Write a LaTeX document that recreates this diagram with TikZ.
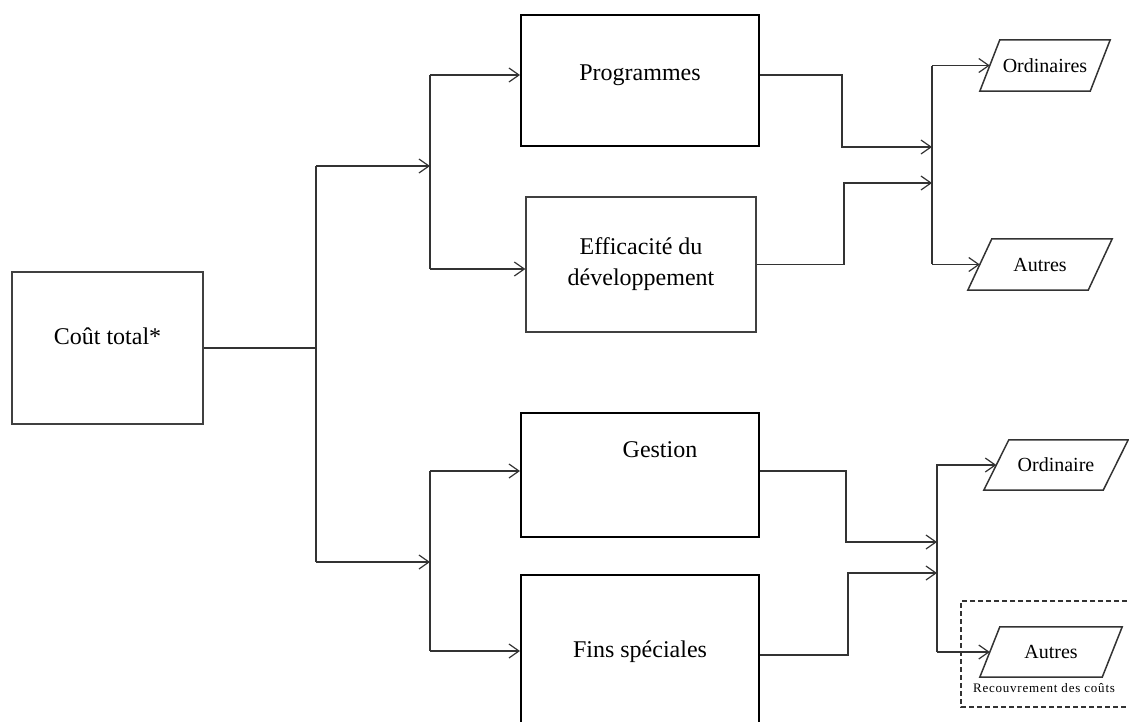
\documentclass[tikz,border=0pt]{standalone}
\usepackage{fontspec}
\setmainfont{Liberation Serif}
\newfontfamily\spacedfont[LetterSpace=6]{Liberation Serif}
\usetikzlibrary{arrows.meta,calc}
\definecolor{ln}{HTML}{333333}
\begin{document}
\begin{tikzpicture}[x=1pt,y=-1pt,
  box/.style={draw=black!75, line width=1.3pt, rectangle, inner sep=0pt, font=\fontsize{24}{31}\selectfont, align=center},
  thickbox/.style={box, draw=black, line width=2pt},
  conn/.style={draw=ln, line width=1.2pt},
  arr/.style={conn, -{Straight Barb[length=10pt,width=14pt,line width=1.2pt]}},
  para/.style={rectangle, inner sep=0pt, minimum height=51pt, font=\fontsize{20}{24}\selectfont},
  paraline/.style={draw=ln, line width=1.5pt, line join=miter},
  lbl/.style={font=\fontsize{24}{31}\selectfont}
]
\useasboundingbox (0,0) rectangle (1129,721);

% boxes
\node[box, minimum width=191pt, minimum height=152pt,
  label={[lbl,yshift=12pt]center:Coût total*}] (total) at (107.5,348) {};
\node[thickbox, minimum width=238pt, minimum height=131pt,
  label={[lbl,yshift=5pt]center:Programmes}] (prog) at (640,80.5) {};
\node[box, minimum width=230pt, minimum height=135pt] (eff) at (641,264.5) {Efficacité du\\développement};
\node[thickbox, minimum width=238pt, minimum height=124pt,
  label={[lbl,xshift=20pt,yshift=25pt]center:Gestion}] (gest) at (640,475) {};
\node[thickbox, minimum width=238pt, minimum height=165pt,
  label={[lbl,yshift=5.5pt]center:Fins spéciales}] (fins) at (640,657.5) {};

% parallelograms (text nodes + outlines)
\node[para, minimum width=130pt] (ord1) at (1045,65.5) {Ordinaires};
\node[para, minimum width=144pt] (aut1) at (1040,264.5) {Autres};
\node[para, minimum width=144pt, minimum height=50pt] (ord2) at (1056,465) {Ordinaire};
\node[para, minimum width=142pt, minimum height=50pt] (aut2) at (1051,652) {Autres};

\draw[paraline] (ord1.south west) -- ($(ord1.north west)+(20,0)$) -- (ord1.north east) -- ($(ord1.south east)+(-20,0)$) -- cycle;
\draw[paraline] (aut1.south west) -- ($(aut1.north west)+(24,0)$) -- (aut1.north east) -- ($(aut1.south east)+(-24,0)$) -- cycle;
\draw[paraline] (ord2.south west) -- ($(ord2.north west)+(25,0)$) -- (ord2.north east) -- ($(ord2.south east)+(-25,0)$) -- cycle;
\draw[paraline] (aut2.south west) -- ($(aut2.north west)+(20,0)$) -- (aut2.north east) -- ($(aut2.south east)+(-20,0)$) -- cycle;

\coordinate (ord1in) at ($(ord1.west)+(10,0)$);
\coordinate (aut1in) at ($(aut1.west)+(12,0)$);
\coordinate (ord2in) at ($(ord2.west)+(12.5,0)$);
\coordinate (aut2in) at ($(aut2.west)+(10,0)$);

% dashed group
\draw[draw=ln, line width=1.2pt, dash pattern=on 5pt off 3pt] (1135,601) -| (961,707) -- (1135,707);
\node[font=\spacedfont\fontsize{13}{15}\selectfont] (rec) at (1044,688) {Recouvrement des coûts};

% coordinates
\coordinate (j0) at (316,348);
\coordinate (jt) at (316,166);
\coordinate (jb) at (316,562);
\coordinate (kt) at (430,166);
\coordinate (kb) at (430,562);
\coordinate (u1) at (430,75);
\coordinate (u2) at (430,269);
\coordinate (w1) at (430,471);
\coordinate (w2) at (430,651);
\coordinate (v1) at (932,66);
\coordinate (v2) at (932,264);
\coordinate (x1) at (937,464);
\coordinate (x2) at (937,652);
\coordinate (f1) at (848,655);

% connectors left
\draw[conn] (total.east) -- (j0);
\draw[conn] (jt) -- (jb);
\draw[arr] (jt) -- (kt);
\draw[arr] (jb) -- (kb);

\draw[conn] (u1) -- (u2);
\draw[arr] (u1) -- (u1 -| prog.west);
\draw[arr] (u2) -- (u2 -| eff.west);

\draw[conn] (w1) -- (w2);
\draw[arr] (w1) -- (w1 -| gest.west);
\draw[arr] (w2) -- (w2 -| fins.west);

% connectors right, top
\draw[arr] (prog.east |- u1) -| (842,147) -- (932,147);
\draw[arr] (eff.east) -| (844,183) -- (932,183);
\draw[conn] (v1) -- (v2);
\draw[arr] (ord1in -| v1) -- (ord1in);
\draw[arr] (aut1in -| v1) -- (aut1in);

% connectors right, bottom
\draw[arr] (gest.east |- w1) -| (846,542) -- (937,542);
\draw[arr] (fins.east |- f1) -- (f1) -- (848,573) -- (937,573);
\draw[conn] (x1) -- (x2);
\draw[arr] (ord2in -| x1) -- (ord2in);
\draw[arr] (aut2in -| x1) -- (aut2in);
\end{tikzpicture}
\end{document}
